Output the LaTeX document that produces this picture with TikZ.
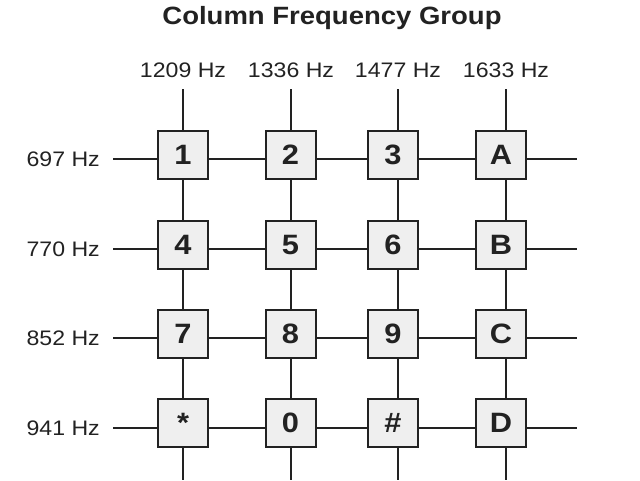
\documentclass[tikz,border=0pt]{standalone}
\usepackage{fontspec}
\setmainfont{Liberation Sans}[FakeStretch=1.1]
\definecolor{keygray}{HTML}{EFEFEF}
\definecolor{ink}{HTML}{222222}
\tikzset{
  wire/.style={draw=ink,line width=2pt},
  keybox/.style={draw=ink,fill=keygray,line width=2pt,minimum width=50pt,minimum height=48pt,inner sep=0pt,font=\fontsize{28}{28}\selectfont\bfseries,text=ink},
  freq/.style={font=\fontsize{21}{21}\selectfont,text=ink,inner sep=0pt}
}
\begin{document}
\begin{tikzpicture}[x=1pt,y=-1pt]
      \useasboundingbox (0,0) rectangle (640,480);

      \node[font=\fontsize{25}{25}\selectfont\bfseries,text=ink] (title) at (332,18) {Column Frequency Group};

      % column wires and their labels
      \foreach \x/\f [count=\i] in {183/1209,291/1336,398/1477,506/1633} {
        \coordinate (ct\i) at (\x,89);
        \coordinate (cb\i) at (\x,480);
        \node[freq] (c\i) at (\x,70) {\f{} Hz};
        \draw[wire] (ct\i) -- (cb\i);
      }

      % row wires and their labels
      \foreach \y/\f [count=\j] in {159/697,249/770,338/852,428/941} {
        \coordinate (rl\j) at (113,\y);
        \coordinate (rr\j) at (577,\y);
        \node[freq,anchor=east] (r\j) at (100,\y) {\f{} Hz};
        \draw[wire] (rl\j) -- (rr\j);
      }

      % 16 keys on the crossings
      \foreach \y/\a/\b/\c/\d [count=\j] in {155/1/2/3/A,245/4/5/6/B,334/7/8/9/C,423/*/0/\#/D} {
        \node[keybox] (k\j1) at (183,\y) {\a};
        \node[keybox] (k\j2) at (290.5,\y) {\b};
        \node[keybox] (k\j3) at (393,\y) {\c};
        \node[keybox] (k\j4) at (501,\y) {\d};
      }

\end{tikzpicture}
\end{document}
